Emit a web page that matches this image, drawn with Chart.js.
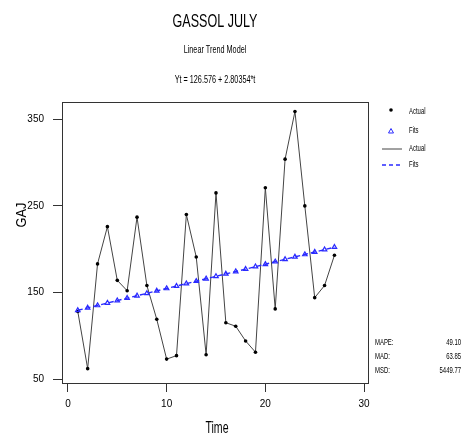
<!DOCTYPE html>
<html>
<head>
<meta charset="utf-8">
<script src="https://cdn.jsdelivr.net/npm/chart.js@4.4.1/dist/chart.umd.min.js"></script>
<style>
  html, body { margin: 0; padding: 0; background: #fff; }
  #wrap { width: 463px; height: 437px; }
</style>
</head>
<body>
<div id="wrap"><canvas id="grafico" width="463" height="437"></canvas></div>
<script>
// dados
const tempo = [1,2,3,4,5,6,7,8,9,10,11,12,13,14,15,16,17,18,19,20,21,22,23,24,25,26,27];
const atual = [128,62,183,226,164,152,237,158,119,73,77,240,191,78,265,115,111,94,81,271,131,304,359,250,144,158,193];
const ajuste = [129.4,132.2,135.0,137.8,140.6,143.4,146.2,149.0,151.8,154.6,157.4,160.2,163.0,165.8,168.6,171.4,174.2,177.0,179.8,182.6,185.5,188.3,191.1,193.9,196.7,199.5,202.3];
const ticksX = [0, 10, 20, 30];
const ticksY = [50, 150, 250, 350];
const titulo = 'GASSOL JULY';
const subtitulo = 'Linear Trend Model';
const equacao = 'Yt = 126.576 + 2.80354*t';
const medidasNomes = ['MAPE:', 'MAD:', 'MSD:'];
const medidasValores = ['49.10', '63.85', '5449.77'];

const fonte = "'Liberation Sans', Arial, sans-serif";
const corLinha = '#444';
const corAzul = '#2a2aff';

const ptsAtual = tempo.map((t, i) => ({x: t, y: atual[i]}));
const ptsAjuste = tempo.map((t, i) => ({x: t, y: ajuste[i]}));

// texto estreito (fonte condensada na mao)
function texto(c, s, x, y, tam, alinha, sx) {
  c.save();
  c.translate(x, y);
  c.scale(sx || 0.66, 1);
  c.font = tam + 'px ' + fonte;
  c.textAlign = alinha || 'center';
  c.textBaseline = 'middle';
  c.fillText(s, 0, 0);
  c.restore();
}

const textos = {
  id: 'textos',
  afterDraw(chart) {
    const c = chart.ctx;
    const a = chart.chartArea;
    c.save();
    // moldura
    c.strokeStyle = '#333';
    c.lineWidth = 1;
    c.strokeRect(a.left + 0.5, a.top + 0.5, a.right - a.left, a.bottom - a.top);

    c.fillStyle = '#000';
    texto(c, titulo, 215, 22, 19);
    texto(c, subtitulo, 215, 50, 11);
    texto(c, equacao, 215, 80, 11);

    // titulos dos eixos
    texto(c, 'Time', 217, 429, 16);
    c.save();
    c.translate(22, 215);
    c.rotate(-Math.PI / 2);
    texto(c, 'GAJ', 0, 0, 15, 'center', 0.85);
    c.restore();

    // legenda
    texto(c, 'Actual', 409, 112, 9, 'left');
    texto(c, 'Fits', 409, 131, 9, 'left');
    texto(c, 'Actual', 409, 149, 9, 'left');
    texto(c, 'Fits', 409, 165, 9, 'left');
    c.beginPath();
    c.arc(391, 110, 1.8, 0, Math.PI * 2);
    c.fill();
    c.strokeStyle = corAzul;
    c.beginPath();
    c.moveTo(391, 128.5); c.lineTo(393.5, 133); c.lineTo(388.5, 133); c.closePath();
    c.stroke();
    c.strokeStyle = corLinha;
    c.beginPath(); c.moveTo(382, 149); c.lineTo(402, 149); c.stroke();
    c.strokeStyle = corAzul;
    c.lineWidth = 1.3;
    c.setLineDash([4, 3]);
    c.beginPath(); c.moveTo(382, 165); c.lineTo(403, 165); c.stroke();
    c.setLineDash([]);

    // medidas de erro
    medidasNomes.forEach((n, i) => {
      texto(c, n, 375, 343 + i * 14, 9, 'left');
      texto(c, medidasValores[i], 461, 343 + i * 14, 9, 'right');
    });
    c.restore();
  }
};

new Chart(document.getElementById('grafico'), {
  type: 'scatter',
  data: {
    datasets: [
      {
        label: 'Fits',
        data: ptsAjuste,
        showLine: true,
        borderColor: corAzul,
        borderWidth: 1.4,
        borderDash: [5, 3],
        pointStyle: 'triangle',
        pointRadius: 2.6,
        pointBackgroundColor: 'rgba(0,0,0,0)',
        pointBorderColor: corAzul,
        pointBorderWidth: 1.2
      },
      {
        label: 'Actual',
        data: ptsAtual,
        showLine: true,
        borderColor: corLinha,
        borderWidth: 1,
        pointRadius: 1.8,
        pointBackgroundColor: '#000',
        pointBorderColor: '#000',
        pointBorderWidth: 0
      }
    ]
  },
  options: {
    animation: false,
    responsive: false,
    layout: { padding: { top: 102, right: 95, left: 0, bottom: 0 } },
    plugins: { legend: { display: false }, title: { display: false }, tooltip: { enabled: false } },
    scales: {
      x: {
        type: 'linear',
        min: -0.6,
        max: 30.4,
        afterBuildTicks: s => { s.ticks = ticksX.map(v => ({ value: v })); },
        afterFit: s => { s.height = 54; },
        grid: { drawOnChartArea: false, drawTicks: true, tickLength: 9, color: '#333' },
        border: { display: true, color: '#333' },
        ticks: { color: '#000', font: { size: 10, family: fonte }, padding: 6, maxRotation: 0 }
      },
      y: {
        min: 45.4,
        max: 370,
        afterBuildTicks: s => { s.ticks = ticksY.map(v => ({ value: v })); },
        afterFit: s => { s.width = 62; },
        grid: { drawOnChartArea: false, drawTicks: true, tickLength: 9, color: '#333' },
        border: { display: true, color: '#333' },
        ticks: { color: '#000', font: { size: 10, family: fonte }, padding: 9 }
      }
    }
  },
  plugins: [textos]
});
</script>
</body>
</html>
